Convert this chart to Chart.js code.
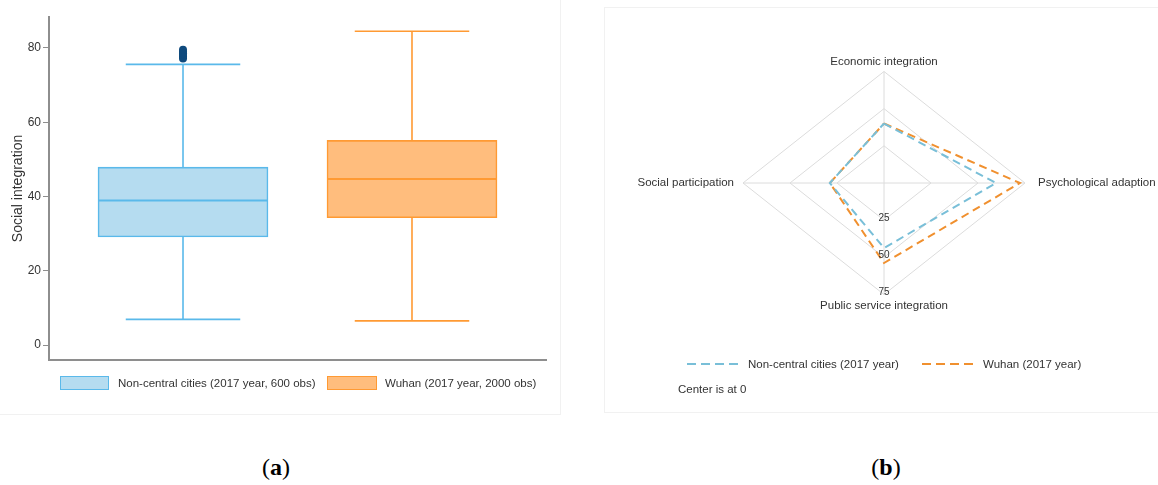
<!DOCTYPE html>
<html>
<head>
<meta charset="utf-8">
<title>Social integration: non-central cities vs Wuhan</title>
<script src="https://cdn.jsdelivr.net/npm/chart.js@4/dist/chart.umd.min.js"></script>
<style>
  html, body { margin: 0; padding: 0; background: #fff; }
  body { width: 1158px; height: 485px; position: relative; overflow: hidden;
         font-family: "Liberation Sans", Arial, sans-serif; color: #333; }
  .frame { position: absolute; border: 1px solid #f1f1f1; box-sizing: border-box; }
  canvas { position: absolute; }
  .leg { position: absolute; font-size: 11.5px; line-height: 14px; white-space: nowrap; color: #333; }
  .swatch { position: absolute; box-sizing: border-box; border: 1.5px solid; }
  .cap { position: absolute; font-family: "Liberation Serif", "DejaVu Serif", serif; font-size: 24px;
         line-height: 28px; color: #000; transform: translateX(-50%); }
  .cap b { font-weight: bold; }
</style>
</head>
<body>
<div class="frame" style="left:-1px;top:-1px;width:562px;height:416px;"></div>
<div class="frame" style="left:604px;top:7px;width:556px;height:406px;"></div>

<canvas id="boxChart" width="560" height="414" style="left:0;top:0;"></canvas>
<canvas id="radarChart" width="554" height="405" style="left:604px;top:7px;"></canvas>

<!-- legend of the box plot -->
<div class="swatch" style="left:60px;top:376px;width:49px;height:14px;background:#b5dcf0;border-color:#5ab9ea;"></div>
<div class="leg" id="legA0" style="left:118px;top:376px;"></div>
<div class="swatch" style="left:327px;top:376px;width:50px;height:14px;background:#ffbd7d;border-color:#ff9a33;"></div>
<div class="leg" id="legA1" style="left:385px;top:376px;"></div>

<!-- legend of the radar plot -->
<svg style="position:absolute;left:687px;top:358px;" width="54" height="12">
  <line x1="0" y1="6" x2="53" y2="6" stroke="#79bfd8" stroke-width="2" stroke-dasharray="9,5"/>
</svg>
<div class="leg" id="legB0" style="left:748px;top:357px;"></div>
<svg style="position:absolute;left:922px;top:358px;" width="54" height="12">
  <line x1="0" y1="6" x2="53" y2="6" stroke="#f0902f" stroke-width="2" stroke-dasharray="9,5"/>
</svg>
<div class="leg" id="legB1" style="left:983px;top:357px;"></div>
<div class="leg" style="left:678px;top:382px;">Center is at 0</div>

<div class="cap" style="left:276px;top:453px;">(<b>a</b>)</div>
<div class="cap" style="left:886px;top:453px;">(<b>b</b>)</div>

<script>
// ---- box plot data ----
const boxGroups = ['Non-central cities (2017 year, 600 obs)', 'Wuhan (2017 year, 2000 obs)'];
const boxPositions = [1, 2];
const boxQ1 = [29.1, 34.3];
const boxMedian = [38.9, 44.7];
const boxQ3 = [47.9, 55.1];
const whiskerLow = [6.9, 6.5];
const whiskerHigh = [75.6, 84.5];
const nonCentralOutliers = [77.2, 77.7, 78.1, 78.6, 79.0, 79.5];
const socialTicks = [0, 20, 40, 60, 80];

// ---- radar data ----
const radarAxes = ['Economic integration', 'Psychological adaption', 'Public service integration', 'Social participation'];
const nonCentralScores = [40, 59.6, 43.7, 28.8];
const wuhanScores = [40, 72.3, 53.8, 28.8];
const ringTicks = [25, 50, 75];
const radarSeries = ['Non-central cities (2017 year)', 'Wuhan (2017 year)'];

const boxFill = ['#b5dcf0', '#ffbd7d'];
const boxLine = ['#5ab9ea', '#ff9a33'];
const radarColors = ['#79bfd8', '#f0902f'];

document.getElementById('legA0').textContent = boxGroups[0];
document.getElementById('legA1').textContent = boxGroups[1];
document.getElementById('legB0').textContent = radarSeries[0];
document.getElementById('legB1').textContent = radarSeries[1];

Chart.defaults.font.family = '"Liberation Sans", Arial, sans-serif';
Chart.defaults.color = '#333';
Chart.defaults.animation = false;

// whiskers, caps and medians drawn through the chart scales
const whiskerPlugin = {
  id: 'whiskers',
  afterDatasetsDraw(chart) {
    const { ctx, scales: { x, y } } = chart;
    ctx.save();
    boxPositions.forEach((pos, i) => {
      const cx = x.getPixelForValue(pos);
      const capL = x.getPixelForValue(pos - 0.25);
      const capR = x.getPixelForValue(pos + 0.25);
      const boxL = x.getPixelForValue(pos - 0.371);
      const boxR = x.getPixelForValue(pos + 0.371);
      ctx.strokeStyle = boxLine[i];
      ctx.lineWidth = 1.6;
      ctx.beginPath();
      ctx.moveTo(cx, y.getPixelForValue(boxQ3[i]));
      ctx.lineTo(cx, y.getPixelForValue(whiskerHigh[i]));
      ctx.moveTo(cx, y.getPixelForValue(boxQ1[i]));
      ctx.lineTo(cx, y.getPixelForValue(whiskerLow[i]));
      ctx.moveTo(capL, y.getPixelForValue(whiskerHigh[i]));
      ctx.lineTo(capR, y.getPixelForValue(whiskerHigh[i]));
      ctx.moveTo(capL, y.getPixelForValue(whiskerLow[i]));
      ctx.lineTo(capR, y.getPixelForValue(whiskerLow[i]));
      ctx.stroke();
      ctx.lineWidth = 2;
      ctx.beginPath();
      ctx.moveTo(boxL, y.getPixelForValue(boxMedian[i]));
      ctx.lineTo(boxR, y.getPixelForValue(boxMedian[i]));
      ctx.stroke();
    });
    ctx.restore();
  }
};

new Chart(document.getElementById('boxChart'), {
  type: 'bar',
  data: {
    datasets: [
      {
        type: 'scatter',
        data: nonCentralOutliers.map(v => ({ x: boxPositions[0], y: v })),
        backgroundColor: '#0f4a7d',
        borderColor: '#0f4a7d',
        pointRadius: 4,
        pointBorderWidth: 0
      },
      {
        type: 'bar',
        data: boxPositions.map((p, i) => ({ x: p, y: [boxQ1[i], boxQ3[i]] })),
        backgroundColor: boxFill,
        borderColor: boxLine,
        borderWidth: 1.6,
        borderSkipped: false,
        barThickness: 170
      }
    ]
  },
  options: {
    responsive: false,
    layout: { padding: { top: 17, right: 14, bottom: 54, left: 0 } },
    plugins: { legend: { display: false }, tooltip: { enabled: false } },
    scales: {
      x: {
        type: 'linear',
        offset: false,
        min: 0.4148,
        max: 2.5852,
        ticks: { display: false },
        grid: { display: false, drawTicks: false, offset: false },
        border: { display: true, color: '#8e8e8e', width: 2 },
        afterFit: s => { s.height = 0; }
      },
      y: {
        min: -4.04,
        max: 88.35,
        afterBuildTicks: s => { s.ticks = socialTicks.map(v => ({ value: v })); },
        ticks: { font: { size: 12 }, color: '#333', padding: 2 },
        grid: { display: true, drawOnChartArea: false, drawTicks: true, tickLength: 6, color: '#8e8e8e' },
        border: { display: true, color: '#8e8e8e', width: 2 },
        title: { display: true, text: 'Social integration', font: { size: 14 }, color: '#333', padding: { top: 10, bottom: 0 } },
        afterFit: s => { s.width = 49; }
      }
    }
  },
  plugins: [whiskerPlugin]
});

// ---- radar drawn on linear x/y scales (horizontal and vertical units differ) ----
const directions = [[0, 1], [1, 0], [0, -1], [-1, 0]];
const toPoints = scores => {
  const pts = scores.map((v, i) => ({ x: directions[i][0] * v, y: directions[i][1] * v }));
  pts.push(pts[0]);
  return pts;
};

const radarGridPlugin = {
  id: 'radarGrid',
  beforeDatasetsDraw(chart) {
    const { ctx, scales: { x, y } } = chart;
    const outer = ringTicks[ringTicks.length - 1];
    ctx.save();
    ctx.strokeStyle = '#dcdcdc';
    ctx.lineWidth = 1;
    ringTicks.forEach(r => {
      ctx.beginPath();
      directions.forEach((d, i) => {
        const px = x.getPixelForValue(d[0] * r);
        const py = y.getPixelForValue(d[1] * r);
        if (i === 0) ctx.moveTo(px, py); else ctx.lineTo(px, py);
      });
      ctx.closePath();
      ctx.stroke();
    });
    ctx.beginPath();
    directions.forEach(d => {
      ctx.moveTo(x.getPixelForValue(0), y.getPixelForValue(0));
      ctx.lineTo(x.getPixelForValue(d[0] * outer), y.getPixelForValue(d[1] * outer));
    });
    ctx.stroke();
    ctx.restore();
  },
  afterDraw(chart) {
    const { ctx, scales: { x, y } } = chart;
    const outer = ringTicks[ringTicks.length - 1];
    const cx = x.getPixelForValue(0);
    const cy = y.getPixelForValue(0);
    ctx.save();
    ctx.fillStyle = '#333';
    ctx.font = '11.5px "Liberation Sans", Arial, sans-serif';
    ctx.textBaseline = 'middle';
    ctx.textAlign = 'center';
    ctx.fillText(radarAxes[0], cx, y.getPixelForValue(outer) - 10);
    ctx.fillText(radarAxes[2], cx, y.getPixelForValue(-outer) + 11);
    ctx.textAlign = 'left';
    ctx.fillText(radarAxes[1], x.getPixelForValue(outer) + 13, cy);
    ctx.textAlign = 'right';
    ctx.fillText(radarAxes[3], x.getPixelForValue(-outer) - 9, cy);
    ctx.font = '10px "Liberation Sans", Arial, sans-serif';
    ctx.textAlign = 'center';
    ringTicks.forEach(r => {
      ctx.fillText(String(r), cx, y.getPixelForValue(-r) - 2);
    });
    ctx.restore();
  }
};

new Chart(document.getElementById('radarChart'), {
  type: 'scatter',
  data: {
    datasets: [nonCentralScores, wuhanScores].map((s, i) => ({
      label: radarSeries[i],
      data: toPoints(s),
      showLine: true,
      borderColor: radarColors[i],
      borderWidth: 2,
      borderDash: [8, 5],
      pointRadius: 0,
      fill: false
    }))
  },
  options: {
    responsive: false,
    layout: { padding: { top: 27.3, right: 48.4, bottom: 80.3, left: 54.4 } },
    plugins: { legend: { display: false }, tooltip: { enabled: false } },
    scales: {
      x: { type: 'linear', display: false, min: -120, max: 120 },
      y: { type: 'linear', display: false, min: -100, max: 100 }
    }
  },
  plugins: [radarGridPlugin]
});
</script>
</body>
</html>
